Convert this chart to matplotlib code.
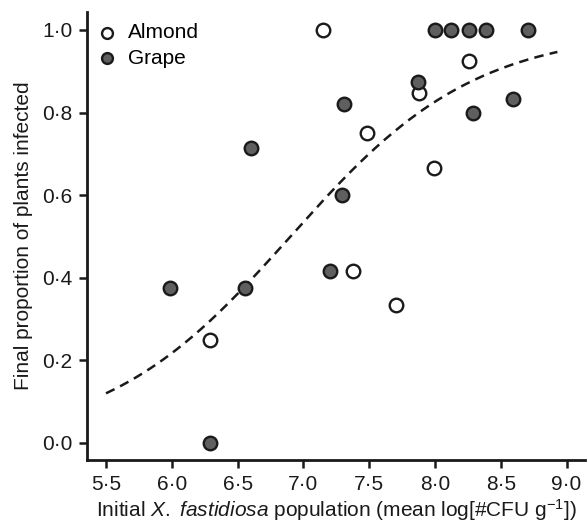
import numpy as np
import matplotlib
matplotlib.use("Agg")
import matplotlib.pyplot as plt
from matplotlib.ticker import FixedLocator, FuncFormatter

# ---- data ----
almond_x = [7.15, 8.26, 7.88, 7.48, 7.99, 7.38, 7.70, 6.29]
almond_y = [1.0, 0.925, 0.848, 0.75, 0.667, 0.417, 0.333, 0.25]

grape_x = [5.99, 6.29, 6.56, 6.60, 7.20, 7.29, 7.31, 7.87, 8.29, 8.59,
           8.00, 8.12, 8.26, 8.385, 8.71]
grape_y = [0.375, 0.0, 0.375, 0.714, 0.417, 0.60, 0.82, 0.875, 0.80, 0.833,
           1.0, 1.0, 1.0, 1.0, 1.0]

# logistic fit shown as dashed line (parameters)
fit_intercept = -9.80
fit_slope = 1.42
fit_xrange = [5.5, 8.93]

xticks = [5.5, 6.0, 6.5, 7.0, 7.5, 8.0, 8.5, 9.0]
yticks = [0.0, 0.2, 0.4, 0.6, 0.8, 1.0]

# ---- style ----
plt.rcParams['font.family'] = ['Liberation Sans', 'DejaVu Sans']
plt.rcParams['mathtext.fontset'] = 'custom'
plt.rcParams['mathtext.rm'] = 'Liberation Sans'
plt.rcParams['mathtext.it'] = 'Liberation Sans:italic'
plt.rcParams['mathtext.default'] = 'regular'

FS = 15
W, H = 587, 523
fig = plt.figure(figsize=(W / 100, H / 100), dpi=100)
left, right, bottom, top = 87, 585, 460, 12
ax = fig.add_axes([left / W, 1 - bottom / H, (right - left) / W, (bottom - top) / H])

xmin = 5.5 - (106 - 87) / 131.6
xmax = 5.5 + (585 - 106) / 131.6
ymin = -(460 - 443) / 413.0
ymax = (443 - 12) / 413.0
ax.set_xlim(xmin, xmax)
ax.set_ylim(ymin, ymax)

xs = np.linspace(fit_xrange[0], fit_xrange[1], 200)
ys = 1 / (1 + np.exp(-(fit_intercept + fit_slope * xs)))
ax.plot(xs, ys, color='#1a1a1a', lw=1.8, dashes=(3.8, 2.5), zorder=1)

edge = '#1a1a1a'
ax.scatter(almond_x, almond_y, s=95, facecolor='white', edgecolor=edge,
           linewidth=1.7, zorder=3, label='Almond')
ax.scatter(grape_x, grape_y, s=95, facecolor='#5f5f5f', edgecolor=edge,
           linewidth=1.7, zorder=3, label='Grape')

for s in ['top', 'right']:
    ax.spines[s].set_visible(False)
for s in ['left', 'bottom']:
    ax.spines[s].set_linewidth(2.0)
    ax.spines[s].set_color('#1a1a1a')

fmt = FuncFormatter(lambda v, p: f"{v:.1f}".replace('.', '\u00b7'))
ax.xaxis.set_major_locator(FixedLocator(xticks))
ax.yaxis.set_major_locator(FixedLocator(yticks))
ax.xaxis.set_major_formatter(fmt)
ax.yaxis.set_major_formatter(fmt)
ax.tick_params(direction='out', length=5.5, width=1.8, color='#1a1a1a',
               labelsize=FS, pad=5, labelcolor='#1a1a1a')

ax.set_xlabel(r"Initial $\mathit{X.}$ $\mathit{fastidiosa}$ population (mean log[#CFU g$^{-1}$])",
              fontsize=FS, color='#1a1a1a')
ax.xaxis.set_label_coords((337 - left) / (right - left), -0.083)
ax.set_ylabel("Final proportion of plants infected", fontsize=FS, color='#1a1a1a')
ax.yaxis.set_label_coords((33 - left) / (right - left), 0.5)

leg = ax.legend(loc='upper left', bbox_to_anchor=(0.0, 1.0), frameon=False,
                fontsize=FS, handlelength=0.8, handletextpad=0.6, borderpad=0.1,
                labelspacing=0.3, scatterpoints=1, borderaxespad=0.45,
                markerscale=0.8)

fig.savefig('out.png', dpi=100)
